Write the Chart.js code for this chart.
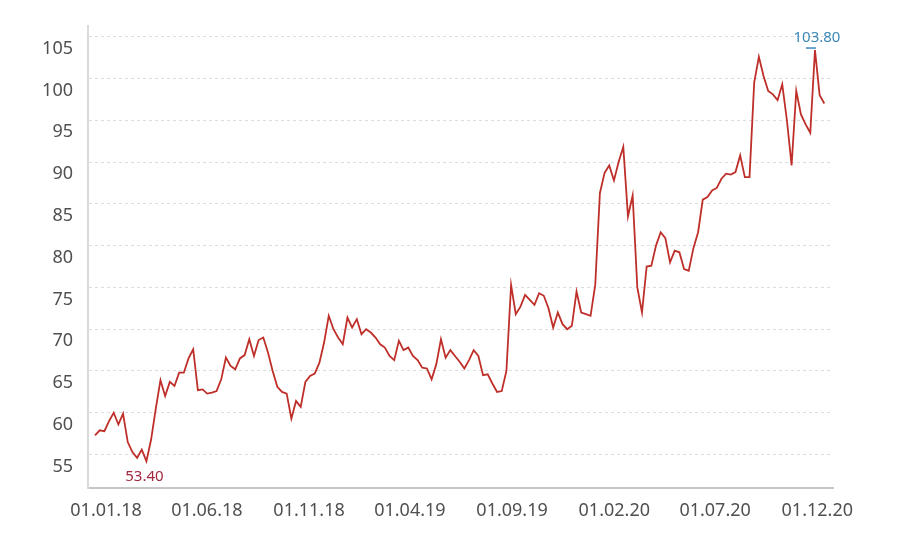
<!DOCTYPE html>
<html>
<head>
<meta charset="utf-8">
<title>Kursverlauf</title>
<script src="https://cdn.jsdelivr.net/npm/chart.js@4.4.1/dist/chart.umd.min.js"></script>
<style>
  html, body { margin: 0; padding: 0; background: #fff; }
  #wrap { width: 900px; height: 544px; position: relative; }
</style>
</head>
<body>
<div id="wrap"><canvas id="price-chart"></canvas></div>
<script>
// Wochenkurse ab 01.01.18 (eine Zahl pro Woche)
const weekStep = 7;
const prices = [
  57.3, 57.9, 57.8, 59.0, 60.0, 58.6, 59.9, 56.5, 55.3, 54.6,
  55.6, 54.2, 56.8, 60.5, 63.9, 62.0, 63.7, 63.2, 64.8, 64.8,
  66.5, 67.6, 62.7, 62.8, 62.3, 62.4, 62.6, 64.0, 66.6, 65.6,
  65.2, 66.5, 66.9, 68.8, 66.8, 68.7, 69.0, 67.2, 65.0, 63.1,
  62.5, 62.3, 59.3, 61.4, 60.7, 63.7, 64.4, 64.7, 66.0, 68.4,
  71.6, 70.0, 69.0, 68.2, 71.4, 70.2, 71.2, 69.4, 70.0, 69.6,
  69.0, 68.2, 67.8, 66.8, 66.3, 68.6, 67.5, 67.8, 66.8, 66.3,
  65.4, 65.3, 64.0, 65.8, 68.8, 66.6, 67.5, 66.8, 66.1, 65.3,
  66.3, 67.5, 66.8, 64.5, 64.6, 63.5, 62.5, 62.6, 65.0, 75.3,
  71.8, 72.7, 74.1, 73.5, 72.9, 74.3, 74.0, 72.5, 70.2, 72.0,
  70.6, 70.0, 70.4, 74.5, 72.0, 71.8, 71.6, 75.3, 86.3, 88.7,
  89.6, 87.8, 90.0, 91.8, 83.5, 86.0, 75.0, 72.0, 77.5, 77.6,
  80.0, 81.6, 80.9, 78.0, 79.4, 79.2, 77.2, 77.0, 79.7, 81.6,
  85.5, 85.8, 86.6, 86.9, 88.0, 88.6, 88.5, 88.8, 90.8, 88.2,
  88.2, 99.5, 102.6, 100.3, 98.5, 98.1, 97.4, 99.3, 95.0, 89.6,
  98.5, 95.7, 94.5, 93.5, 103.4, 98.0, 97.0
];

// Achsenbeschriftungen (Tage seit 01.01.18)
const tickDays = [0, 151, 304, 455, 608, 761, 912, 1065];
const tickLabels = ['01.01.18', '01.06.18', '01.11.18', '01.04.19', '01.09.19', '01.02.20', '01.07.20', '01.12.20'];
const yTicks = [55, 60, 65, 70, 75, 80, 85, 90, 95, 100, 105];

// Beschriftung von Tief und Hoch
const lowText = '53.40';
const highText = '103.80';

const FONT = '"Noto Sans", "Open Sans", sans-serif';

// Plugin: Tief- und Hochwert am Kurs anzeigen
const extremesPlugin = {
  id: 'extremes',
  afterDatasetsDraw(chart) {
    const ctx = chart.ctx;
    const xs = chart.scales.x;
    const ys = chart.scales.y;
    let lo = 0, hi = 0;
    prices.forEach((v, i) => {
      if (v < prices[lo]) lo = i;
      if (v > prices[hi]) hi = i;
    });

    ctx.save();
    ctx.font = '15px ' + FONT;
    ctx.textAlign = 'center';
    ctx.textBaseline = 'middle';

    // Tief
    const lx = xs.getPixelForValue(lo * weekStep);
    const ly = ys.getPixelForValue(prices[lo]);
    ctx.fillStyle = '#a3283f';
    ctx.fillText(lowText, lx - 2, ly + 15);

    // Hoch
    const hx = xs.getPixelForValue(hi * weekStep);
    const hy = ys.getPixelForValue(prices[hi]);
    ctx.fillStyle = '#3b88b8';
    ctx.fillText(highText, hx + 2, hy - 12);
    ctx.strokeStyle = '#3b88b8';
    ctx.lineWidth = 1.5;
    ctx.beginPath();
    ctx.moveTo(hx - 9, hy - 2);
    ctx.lineTo(hx + 1, hy - 2);
    ctx.stroke();
    ctx.restore();
  }
};

function initializePriceChart(chartId) {
  const canvas = document.getElementById(chartId);
  if (!canvas) return;

  const ctx = canvas.getContext('2d');

  const chart = new Chart(ctx, {
    type: 'line',
    data: {
      datasets: [{
        label: 'Kurs',
        data: prices.map((v, i) => ({ x: i * weekStep, y: v })),
        borderColor: '#bf2f2a',
        borderWidth: 1.8,
        pointRadius: 0,
        tension: 0,
        fill: false
      }]
    },
    options: {
      responsive: true,
      maintainAspectRatio: false,
      animation: false,
      layout: {
        padding: { top: 5, right: 67, left: 0, bottom: 0 }
      },
      plugins: {
        legend: { display: false },
        tooltip: { enabled: false }
      },
      scales: {
        x: {
          type: 'linear',
          min: -10.5,
          max: 1105,
          afterFit: scale => { scale.height = 56; },
          afterBuildTicks: scale => {
            scale.ticks = tickDays.map(d => ({ value: d }));
          },
          grid: { display: false, drawTicks: false },
          border: { display: true, color: '#c6c6c6', width: 2 },
          ticks: {
            autoSkip: false,
            maxRotation: 0,
            padding: 12,
            labelOffset: 11,
            color: '#505050',
            font: { family: FONT, size: 18 },
            callback: value => tickLabels[tickDays.indexOf(value)]
          }
        },
        y: {
          min: 51,
          max: 106.3,
          afterFit: scale => { scale.width = 88; },
          afterBuildTicks: scale => {
            scale.ticks = yTicks.map(v => ({ value: v }));
          },
          grid: { color: '#dcdcdc', lineWidth: 1, drawTicks: false },
          border: { display: true, color: '#dadada', width: 2, dash: [3, 3] },
          ticks: {
            padding: 15,
            labelOffset: 12,
            color: '#505050',
            font: { family: FONT, size: 18 }
          }
        }
      }
    },
    plugins: [extremesPlugin]
  });

  canvas.chart = chart;
}

initializePriceChart('price-chart');
</script>
</body>
</html>
